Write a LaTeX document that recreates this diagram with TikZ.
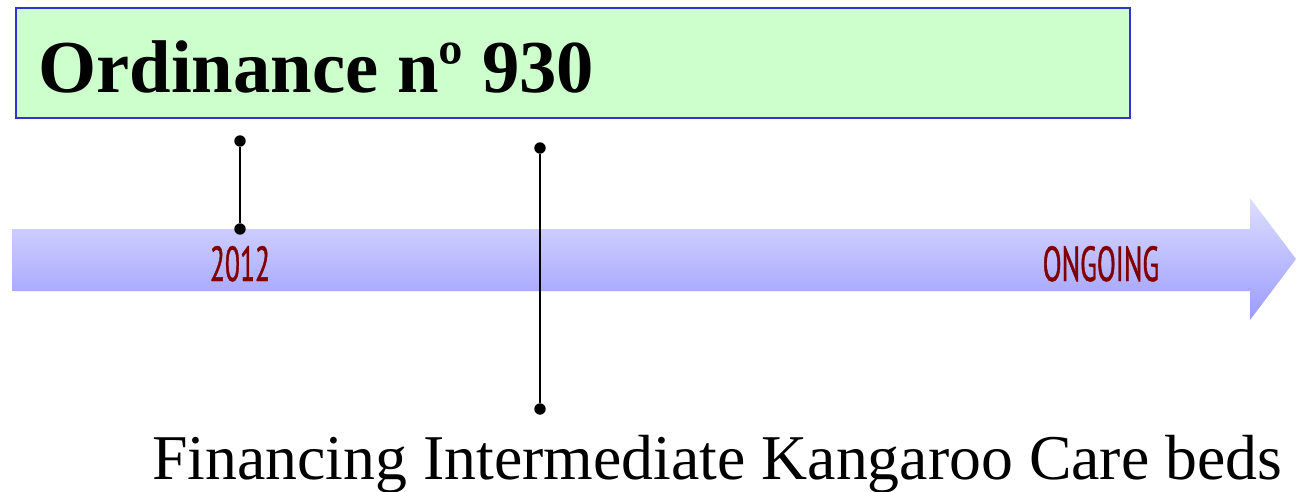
\documentclass[tikz,border=0pt]{standalone}
\usepackage{fontspec}
\setmainfont{Liberation Serif}
\newfontfamily\condfont[FakeStretch=0.56, FakeBold=0.8]{PT Sans}
\definecolor{boxfill}{RGB}{204,255,204}
\definecolor{boxline}{RGB}{51,51,204}
\definecolor{arrowtop}{RGB}{222,222,255}
\definecolor{arrowbot}{RGB}{155,155,255}
\definecolor{yearred}{RGB}{128,0,0}

\begin{document}
\begin{tikzpicture}[x = 0.02cm, y = -0.02cm]
\tikzstyle{TitleBox}=[draw = boxline, fill = boxfill, line width = 1.2pt,
                      minimum width = 22.28cm, minimum height = 2.2cm, inner sep = 0pt]
\tikzstyle{Dot}=[circle, fill = black, minimum size = 6.5pt, inner sep = 0pt]
\tikzstyle{Year}=[text = yearred, font = \condfont\fontsize{28}{28}\selectfont, inner sep = 0pt]
\useasboundingbox (0,0) rectangle (1296,491);

\shade[top color = arrowtop, bottom color = arrowbot]
  (12,229) -- (1250,229) -- (1250,198) -- (1296,259) -- (1250,320) -- (1250,291) -- (12,291) -- cycle;

\node[TitleBox] (ordbox) at (573,63) {};
\node[anchor = base west, inner sep = 0pt, font = \bfseries\fontsize{42.5}{42.5}\selectfont] (ordtitle) at (38,92) {Ordinance nº 930};

\node[Year, anchor = base] (y2012) at (240,281) {2012};
\node[Year, anchor = base] (ongoing) at (1101,281) {ONGOING};

\node[Dot] (d1) at (240,141) {};
\node[Dot] (d2) at (240,229) {};
\node[Dot] (d3) at (540,148) {};
\node[Dot] (d4) at (540,409) {};
\draw[line width = 1.1pt] (d1) -- (d2);
\draw[line width = 1.1pt] (d3) -- (d4);

\node[anchor = base west, inner sep = 0pt, font = \fontsize{36.3}{36.3}\selectfont] (fikc) at (152,479) {Financing Intermediate Kangaroo Care beds};
\end{tikzpicture}
\end{document}
